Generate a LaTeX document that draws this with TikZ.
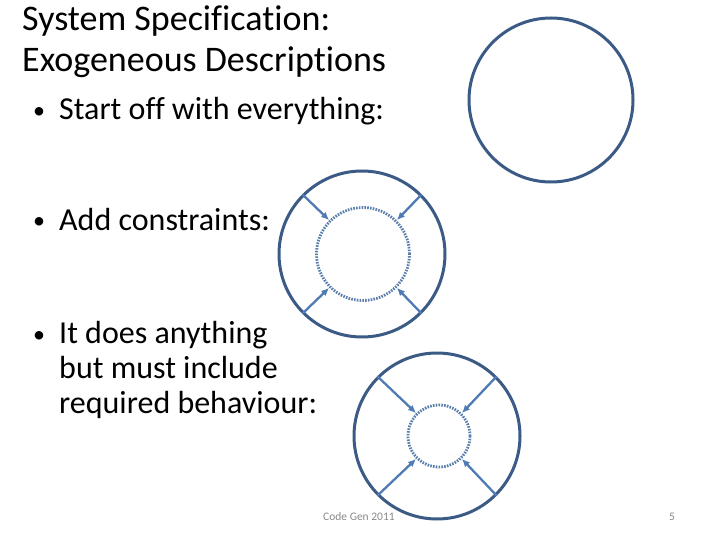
\documentclass[tikz,border=0pt]{standalone}
\usepackage{fontspec}
\setmainfont{Carlito}[Ligatures={NoCommon}]
\usetikzlibrary{arrows.meta}
\definecolor{ringblue}{RGB}{59,90,133}
\definecolor{arrowblue}{RGB}{79,123,181}
\definecolor{dotblue}{RGB}{90,126,172}
\definecolor{footgray}{RGB}{137,137,137}
\begin{document}
\begin{tikzpicture}[x=1pt,y=-1pt]

      \tikzset{ring/.style={draw=ringblue, line width=3pt, circle, inner sep=0pt},
               goal/.style={draw=dotblue, line width=2.8pt, dash pattern=on 1.6pt off 1.2pt, circle, inner sep=0pt},
               squeeze/.style={draw=arrowblue, line width=2.3pt, -{Latex[length=8pt,width=7pt]}},
               txt/.style={anchor=base west, inner sep=0pt, font=\fontsize{32}{35}\selectfont},
               bul/.style={anchor=base west, inner sep=0pt, font=\fontsize{24}{26}\selectfont},
               head/.style={anchor=base west, inner sep=0pt, font=\fontsize{36}{42}\selectfont},
               foot/.style={anchor=base west, inner sep=0pt, text=footgray, font=\fontsize{11.5}{13}\selectfont}}
      \useasboundingbox (0,0) rectangle (720,540);
%% Title and bullets
      	\node[head] (title1) at (22,31) {System Specification:};
      	\node[head] (title2) at (22,72) {Exogeneous Descriptions};
      	\node[bul] (dot1) at (33,119) {\textbullet};
      	\node[txt] (b1) at (59,120) {Start off with everything:};
      	\node[bul] (dot2) at (33,229) {\textbullet};
      	\node[txt] (b2) at (59,230) {Add constraints:};
      	\node[bul] (dot3) at (33,342) {\textbullet};
      	\node[txt] (b3a) at (59,343) {It does anything};
      	\node[txt] (b3b) at (59,378) {but must include};
      	\node[txt] (b3c) at (59,413) {required behaviour:};
%% Circles
      	\node[ring, minimum size=164pt] (all) at (551,100) {};
      	\node[ring, minimum size=166pt] (con) at (362,254) {};
      	\node[goal, minimum size=93pt] (coninner) at (363,254) {};
      	\node[ring, minimum size=166pt] (req) at (437,436) {};
      	\node[goal, minimum size=62pt] (reqinner) at (439,436) {};
%% Arrows
      	\foreach \a in {45,135,225,315} {
      		\draw[squeeze] (con.\a) -- (coninner.\a);
      		\draw[squeeze] (req.\a) -- (reqinner.\a);
      	}
%% Footer
      	\node[foot] (code) at (323,520) {Code Gen 2011};
      	\node[foot] (page) at (669,520) {5};

\end{tikzpicture}
\end{document}
